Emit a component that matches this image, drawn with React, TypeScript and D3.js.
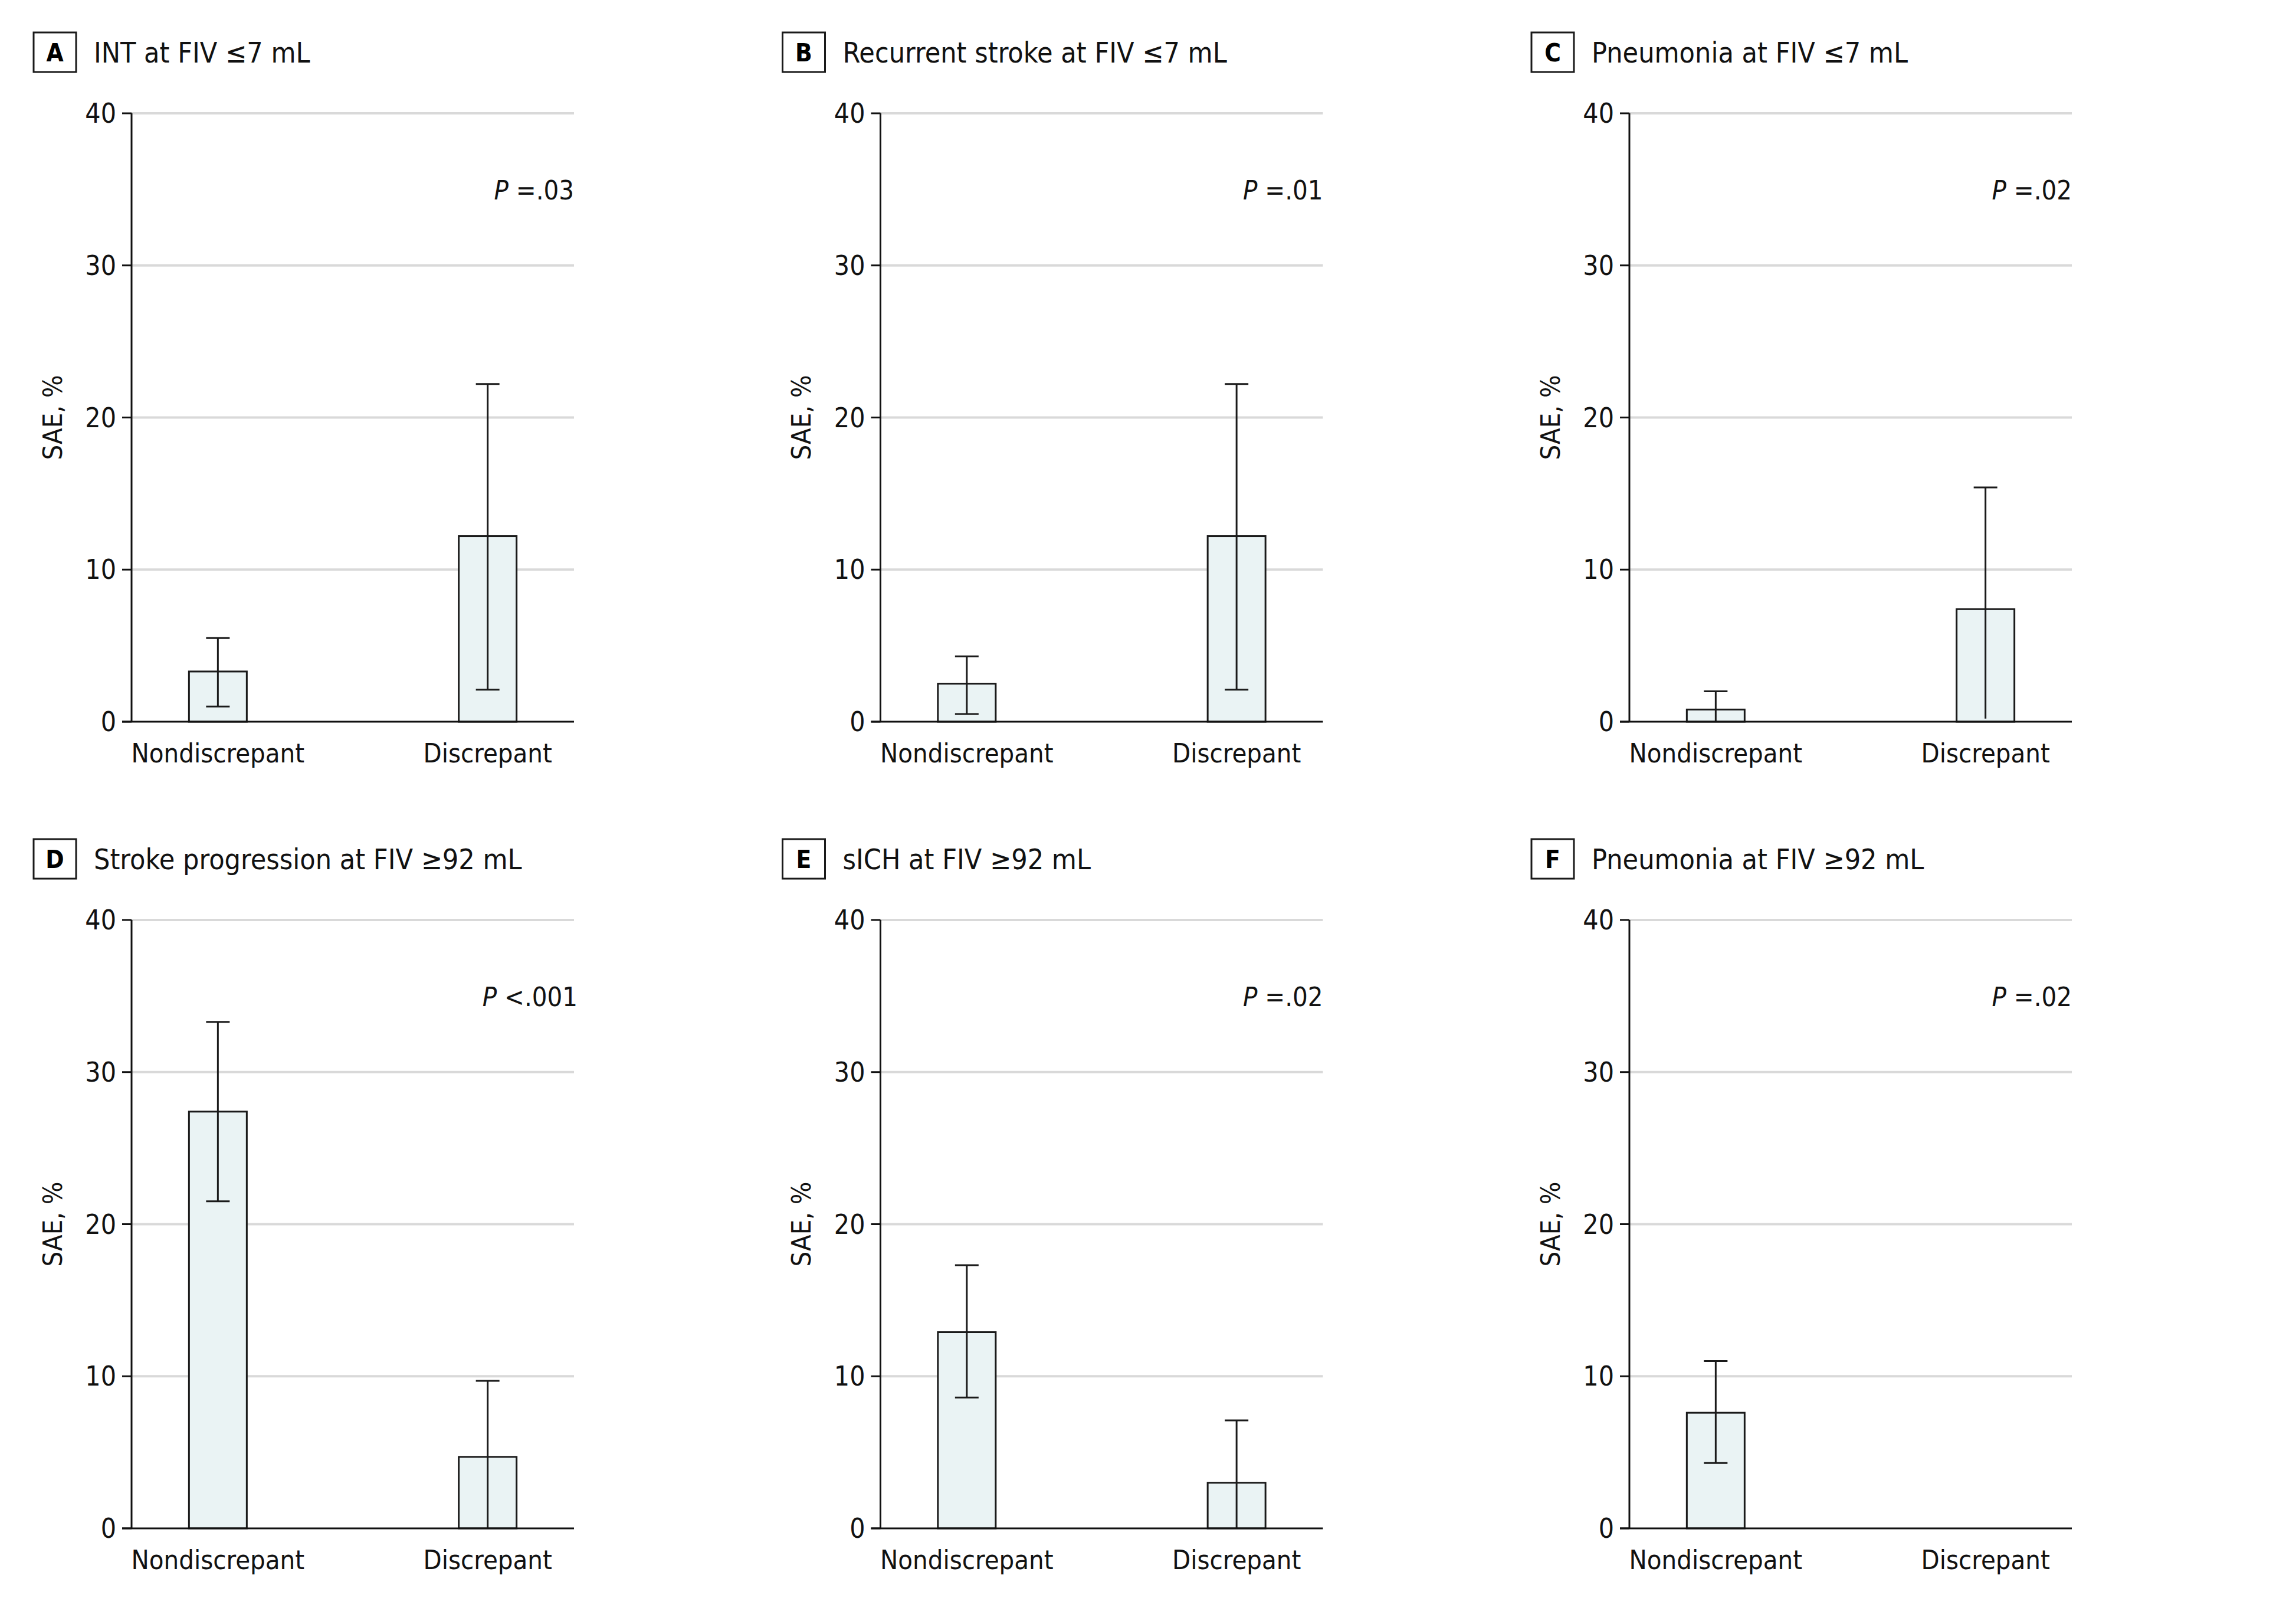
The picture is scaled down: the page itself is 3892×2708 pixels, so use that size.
import React from "react";
import * as d3 from "d3";

const panelLetters = ["A", "B", "C", "D", "E", "F"];
const panelTitles = [
  "INT at FIV \u22647 mL",
  "Recurrent stroke at FIV \u22647 mL",
  "Pneumonia at FIV \u22647 mL",
  "Stroke progression at FIV \u226592 mL",
  "sICH at FIV \u226592 mL",
  "Pneumonia at FIV \u226592 mL",
];
const categories = ["Nondiscrepant", "Discrepant"];
const nondiscValues = [3.3, 2.5, 0.8, 27.4, 12.9, 7.6];
const nondiscLower = [1.0, 0.5, 0.0, 21.5, 8.6, 4.3];
const nondiscUpper = [5.5, 4.3, 2.0, 33.3, 17.3, 11.0];
const discValues: (number | null)[] = [12.2, 12.2, 7.4, 4.7, 3.0, null];
const discLower: (number | null)[] = [2.1, 2.1, 0.2, 0.0, 0.0, null];
const discUpper: (number | null)[] = [22.2, 22.2, 15.4, 9.7, 7.1, null];
const pValueTexts = ["=.03", "=.01", "=.02", "<.001", "=.02", "=.02"];
const yTicks = [0, 10, 20, 30, 40];
const yLabel = "SAE, %";

const W = 3892;
const H = 2708;
const FONT = "'DejaVu Sans Condensed', 'DejaVu Sans', 'Liberation Sans Narrow', sans-serif";

const plotW = 750;
const plotH = 1031;
const originX0 = 223;
const originY0 = 192;
const colStep = 1269.5;
const rowStep = 1367;

const x = d3.scalePoint<string>().domain(categories).range([0, plotW]).padding(0.32);
const y = d3.scaleLinear().domain([0, 40]).range([plotH, 0]);
const barW = 98;
const capW = 40;

function Panel({ i }: { i: number }) {
  const col = i % 3;
  const row = Math.floor(i / 3);
  const ox = originX0 + col * colStep;
  const oy = originY0 + row * rowStep;
  const bars = [
    { cat: categories[0], v: nondiscValues[i], lo: nondiscLower[i], hi: nondiscUpper[i] },
    { cat: categories[1], v: discValues[i], lo: discLower[i], hi: discUpper[i] },
  ];
  const p = pValueTexts[i];
  return (
    <g>
      <g transform={`translate(${ox - 166},${oy - 137})`}>
        <rect x={0} y={0} width={72} height={67} fill="white" stroke="#1a1a1a" strokeWidth={3} />
        <text x={36} y={34} textAnchor="middle" dominantBaseline="central" fontSize={42} fontWeight="bold" fontFamily={FONT} fontStretch="condensed">
          {panelLetters[i]}
        </text>
        <text x={102} y={34} dominantBaseline="central" fontSize={48} fontFamily={FONT} fontStretch="condensed" fill="#111">
          {panelTitles[i]}
        </text>
      </g>
      <g transform={`translate(${ox},${oy})`}>
        {yTicks.filter((t) => t > 0).map((t) => (
          <line key={t} x1={0} x2={plotW} y1={y(t)} y2={y(t)} stroke="#d9d9d9" strokeWidth={4} />
        ))}
        {yTicks.map((t) => (
          <g key={t}>
            <line x1={-16} x2={0} y1={y(t)} y2={y(t)} stroke="#111" strokeWidth={3} />
            <text x={-26} y={y(t)} textAnchor="end" dominantBaseline="central" fontSize={46} fontFamily={FONT} fontStretch="condensed" fill="#111">
              {t}
            </text>
          </g>
        ))}
        <text transform={`translate(${-134},${plotH / 2}) rotate(-90)`} textAnchor="middle" dominantBaseline="central" fontSize={45} fontFamily={FONT} fontStretch="condensed" fill="#111">
          {yLabel}
        </text>
        {bars.map((b) =>
          b.v == null ? null : (
            <g key={b.cat}>
              <rect x={(x(b.cat) as number) - barW / 2} y={y(b.v)} width={barW} height={y(0) - y(b.v)} fill="#eaf3f4" stroke="#1a1a1a" strokeWidth={3} />
              <line x1={x(b.cat)} x2={x(b.cat)} y1={y(b.hi as number)} y2={y(b.lo as number)} stroke="#1a1a1a" strokeWidth={3} />
              <line x1={(x(b.cat) as number) - capW / 2} x2={(x(b.cat) as number) + capW / 2} y1={y(b.hi as number)} y2={y(b.hi as number)} stroke="#1a1a1a" strokeWidth={3} />
              {(b.lo as number) > 0.3 && (
                <line x1={(x(b.cat) as number) - capW / 2} x2={(x(b.cat) as number) + capW / 2} y1={y(b.lo as number)} y2={y(b.lo as number)} stroke="#1a1a1a" strokeWidth={3} />
              )}
            </g>
          )
        )}
        <line x1={0} x2={0} y1={y(40)} y2={y(0)} stroke="#111" strokeWidth={3} />
        <line x1={-16} x2={plotW} y1={y(0)} y2={y(0)} stroke="#111" strokeWidth={3} />
        {categories.map((c) => (
          <text key={c} x={x(c)} y={plotH + 69} textAnchor="middle" fontSize={45} fontFamily={FONT} fontStretch="condensed" fill="#111">
            {c}
          </text>
        ))}
        <text x={plotW + (p.startsWith("<") ? 6 : 0)} y={146} textAnchor="end" fontSize={45} fontFamily={FONT} fontStretch="condensed" fill="#111">
          <tspan fontStyle="italic">P</tspan>
          <tspan>{" " + p}</tspan>
        </text>
      </g>
    </g>
  );
}

export default function App() {
  return (
    <svg width={W} height={H} viewBox={`0 0 ${W} ${H}`} style={{ position: "absolute", left: 0, top: 0, background: "white" }}>
      <rect x={0} y={0} width={W} height={H} fill="white" />
      {panelLetters.map((_, i) => (
        <Panel key={i} i={i} />
      ))}
    </svg>
  );
}
